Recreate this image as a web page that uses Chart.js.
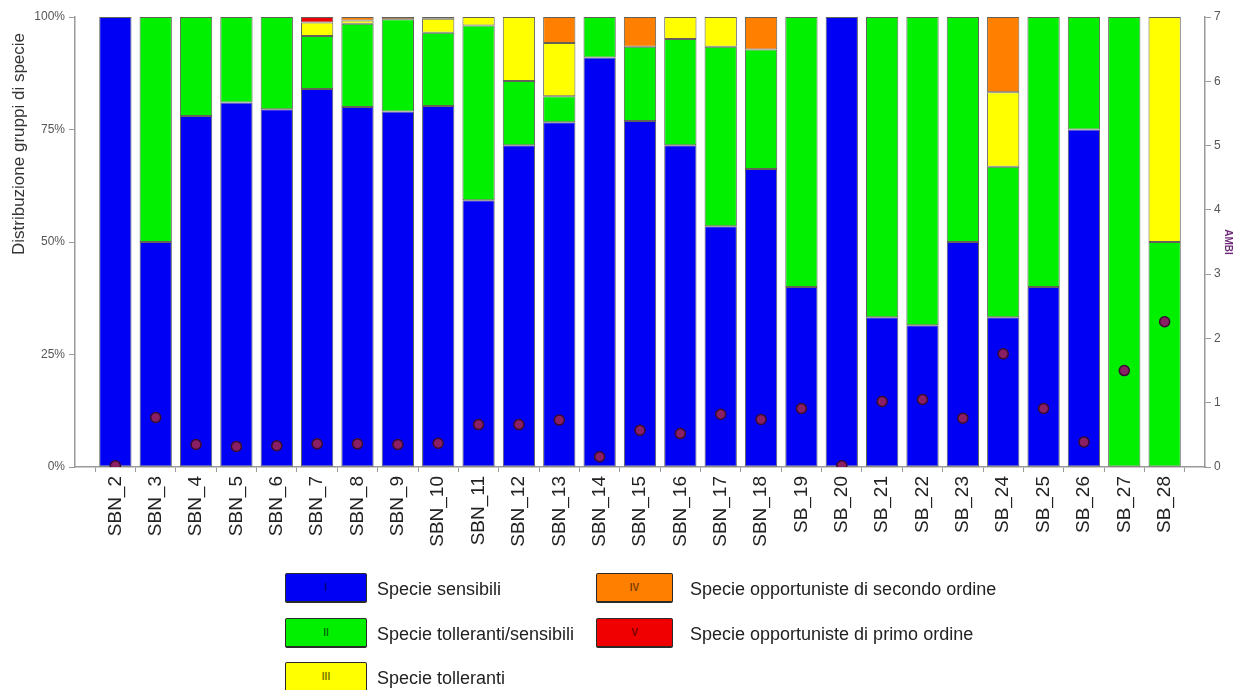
<!DOCTYPE html>
<html>
<head>
<meta charset="utf-8">
<script src="https://cdn.jsdelivr.net/npm/chart.js@4.4.1/dist/chart.umd.min.js"></script>
<style>
  body { margin: 0; background: #fff; }
  #wrap { position: relative; width: 1242px; height: 690px; overflow: hidden; }
  #chart { position: absolute; left: 0; top: 0; }
  .lg-box {
    position: absolute; box-sizing: border-box; height: 30px;
    border: 1.5px solid #2a2a2a; border-bottom-width: 2.5px; border-radius: 2px;
    font: bold 10px "Liberation Sans", Arial, sans-serif; color: rgba(0,0,0,0.55);
    display: flex; align-items: center; justify-content: center;
  }
  .lg-text {
    position: absolute; font: 18px "Liberation Sans", Arial, sans-serif; color: #222;
    line-height: 20px; white-space: nowrap;
  }
</style>
</head>
<body>
<div id="wrap">
  <canvas id="chart" width="1242" height="690"></canvas>
  <div id="legend"></div>
</div>
<script>
// stations
var stations = ['SBN_2','SBN_3','SBN_4','SBN_5','SBN_6','SBN_7','SBN_8','SBN_9','SBN_10','SBN_11','SBN_12','SBN_13','SBN_14','SBN_15','SBN_16','SBN_17','SBN_18','SB_19','SB_20','SB_21','SB_22','SB_23','SB_24','SB_25','SB_26','SB_27','SB_28'];

// % of each ecological group per station
var groupI   = [100, 50, 78, 81, 79.5, 84, 80, 79, 80.2, 59.3, 71.5, 76.6, 91, 76.9, 71.5, 53.5, 66.2, 40, 100, 33.3, 31.5, 50, 33.3, 40, 75, 0, 0];
var groupII  = [0, 50, 22, 19, 20.5, 11.8, 18.5, 20.5, 16.3, 38.8, 14.3, 5.8, 9, 16.5, 23.6, 39.9, 26.6, 60, 0, 66.7, 68.5, 50, 33.4, 60, 25, 100, 50];
var groupIII = [0, 0, 0, 0, 0, 3, 0.7, 0, 3.1, 1.9, 14.2, 11.8, 0, 0, 4.9, 6.6, 0, 0, 0, 0, 0, 0, 16.6, 0, 0, 0, 50];
var groupIV  = [0, 0, 0, 0, 0, 0, 0.8, 0.5, 0.4, 0, 0, 5.8, 0, 6.6, 0, 0, 7.2, 0, 0, 0, 0, 0, 16.7, 0, 0, 0, 0];
var groupV   = [0, 0, 0, 0, 0, 1.2, 0, 0, 0, 0, 0, 0, 0, 0, 0, 0, 0, 0, 0, 0, 0, 0, 0, 0, 0, 0, 0];

// AMBI index per station
var ambi = [0.02, 0.77, 0.35, 0.32, 0.33, 0.36, 0.36, 0.35, 0.37, 0.66, 0.66, 0.73, 0.16, 0.57, 0.52, 0.82, 0.74, 0.91, 0.02, 1.02, 1.05, 0.76, 1.76, 0.91, 0.39, 1.5, 2.26];

var groupNames = ['Specie sensibili', 'Specie tolleranti/sensibili', 'Specie tolleranti', 'Specie opportuniste di secondo ordine', 'Specie opportuniste di primo ordine'];
var groupNumerals = ['I', 'II', 'III', 'IV', 'V'];
var groupColors = ['#0000f5', '#00f000', '#ffff00', '#ff8000', '#f00000'];

// one empty slot at each end so the first/last bar sits one step from the axes
function pad(arr) {
  return [null].concat(arr.map(function(v) { return v === 0 ? null : v }), [null]);
}
var labels = [''].concat(stations, ['']);

var font = '"Liberation Sans", Arial, sans-serif';
var axisGrey = '#9a9a9a';

var groups = [groupI, groupII, groupIII, groupIV, groupV];
var datasets = groups.map(function(g, i) {
  return {
    type: 'bar',
    label: groupNames[i],
    data: pad(g),
    backgroundColor: groupColors[i],
    borderColor: 'rgba(70,70,60,0.85)',
    borderWidth: 1,
    borderSkipped: false,
    categoryPercentage: 1,
    barPercentage: 0.8,
    yAxisID: 'y',
    order: 2
  }
});
datasets.push({
  type: 'line',
  label: 'AMBI',
  data: [null].concat(ambi, [null]),
  showLine: false,
  pointRadius: 5,
  pointBackgroundColor: '#8a1f66',
  pointBorderColor: '#3a0a30',
  pointBorderWidth: 1.5,
  yAxisID: 'y2',
  order: 0
});

var yTitle = {
  id: 'yTitle',
  afterDraw: function(chart) {
    var ctx = chart.ctx;
    ctx.save();
    ctx.translate(19, 144);
    ctx.rotate(-Math.PI / 2);
    ctx.font = '17px ' + font;
    ctx.fillStyle = '#333';
    ctx.textAlign = 'center';
    ctx.textBaseline = 'middle';
    ctx.fillText('Distribuzione gruppi di specie', 0, 0);
    ctx.restore();
  }
};

var ctx = document.getElementById('chart').getContext('2d');
var chart = new Chart(ctx, {
  data: { labels: labels, datasets: datasets },
  plugins: [yTitle],
  options: {
    responsive: false,
    animation: { duration: 0 },
    layout: { padding: { top: 17, left: 0, right: 0, bottom: 0 } },
    scales: {
      x: {
        stacked: true,
        offset: false,
        grid: { display: true, drawOnChartArea: false, drawTicks: true, tickLength: 5, color: axisGrey },
        border: { display: true, color: axisGrey, width: 1.5 },
        ticks: {
          autoSkip: false, minRotation: 90, maxRotation: 90, padding: 4,
          font: { family: font, size: 19 }, color: '#222'
        },
        afterFit: function(s) { s.height = 223 }
      },
      y: {
        stacked: true,
        position: 'left',
        min: 0, max: 100,
        grid: { display: true, drawOnChartArea: false, tickLength: 6, color: axisGrey },
        border: { display: true, color: axisGrey, width: 1.5 },
        ticks: {
          stepSize: 25, padding: 4,
          font: { family: font, size: 12 }, color: '#555',
          callback: function(value) { return value + '%' }
        },
        afterFit: function(s) { s.width = 75 }
      },
      y2: {
        position: 'right',
        stacked: false,
        min: 0, max: 7,
        grid: { display: true, drawOnChartArea: false, tickLength: 6, color: axisGrey },
        border: { display: true, color: axisGrey, width: 1.5 },
        ticks: { stepSize: 1, padding: 3, font: { family: font, size: 12 }, color: '#555' },
        title: {
          display: true, text: 'AMBI', color: '#6e2a78', padding: 8,
          font: { family: font, size: 10, weight: 'bold' }
        },
        afterFit: function(s) { s.width = 37 }
      }
    },
    plugins: {
      legend: { display: false },
      tooltip: { enabled: false }
    }
  }
});

// legend below the chart
var legendPos = [
  { bx: 285, by: 573, bw: 82, tx: 377, ty: 579 },
  { bx: 285, by: 618, bw: 82, tx: 377, ty: 624 },
  { bx: 285, by: 662, bw: 82, tx: 377, ty: 668 },
  { bx: 596, by: 573, bw: 77, tx: 690, ty: 579 },
  { bx: 596, by: 618, bw: 77, tx: 690, ty: 624 }
];
var legend = document.getElementById('legend');
legendPos.forEach(function(p, i) {
  var box = document.createElement('div');
  box.className = 'lg-box';
  box.style.left = p.bx + 'px';
  box.style.top = p.by + 'px';
  box.style.width = p.bw + 'px';
  box.style.background = groupColors[i];
  box.textContent = groupNumerals[i];
  legend.appendChild(box);
  var t = document.createElement('div');
  t.className = 'lg-text';
  t.style.left = p.tx + 'px';
  t.style.top = p.ty + 'px';
  t.textContent = groupNames[i];
  legend.appendChild(t);
});
</script>
</body>
</html>
